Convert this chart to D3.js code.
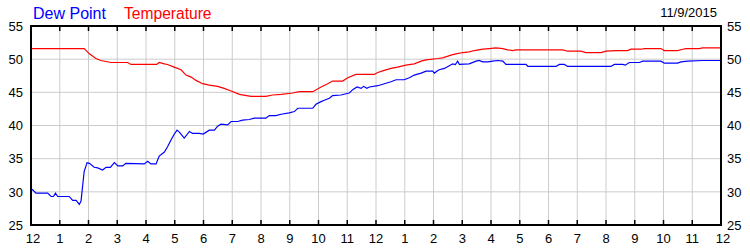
<!DOCTYPE html>
<html>
<head>
<meta charset="utf-8">
<script src="https://cdn.jsdelivr.net/npm/d3@7"></script>
<style>
  html, body { margin: 0; padding: 0; background: #ffffff; }
  svg { display: block; font-family: "Liberation Sans", Arial, sans-serif; }
</style>
</head>
<body>
<svg id="chart" width="750" height="250"></svg>
<script>
// ---- data (hours since midnight, °F) ----
const tempHours = [0,1.85,2.03,2.26,2.43,2.78,3.36,3.48,4.37,4.46,4.64,4.75,4.98,5.22,5.39,5.57,5.74,5.97,6.20,6.49,6.72,6.96,7.25,7.65,8.17,8.41,8.70,9.10,9.33,9.80,10.09,10.32,10.49,10.84,11.02,11.30,11.94,12.06,12.29,12.52,12.75,13.04,13.33,13.57,13.74,14.15,14.32,14.61,14.78,15.02,15.24,15.42,15.71,15.94,16.17,16.41,16.58,16.75,16.87,18.49,18.67,19.13,19.30,19.83,20.00,20.35,20.75,20.87,21.22,21.33,21.91,22.03,22.49,22.67,22.78,23.24,23.36,24];
const tempValues = [51.6,51.6,50.8,50.1,49.8,49.5,49.5,49.2,49.2,49.5,49.3,49.2,48.8,48.4,47.6,47.3,46.8,46.3,46.1,45.9,45.6,45.2,44.7,44.4,44.4,44.6,44.7,44.9,45.1,45.1,45.8,46.3,46.7,46.7,47.2,47.7,47.7,48.0,48.3,48.6,48.8,49.1,49.3,49.7,49.9,50.1,50.2,50.6,50.8,51.0,51.1,51.3,51.5,51.6,51.7,51.6,51.4,51.3,51.4,51.4,51.2,51.2,51.0,51.0,51.2,51.3,51.3,51.5,51.5,51.6,51.6,51.3,51.3,51.5,51.6,51.6,51.7,51.7];

const dewHours = [0,0.06,0.17,0.58,0.70,0.78,0.85,0.93,1.33,1.45,1.57,1.68,1.74,1.85,1.95,2.03,2.20,2.32,2.49,2.61,2.76,2.90,3.02,3.19,3.30,3.94,4.06,4.17,4.35,4.46,4.64,4.75,4.87,4.97,5.08,5.16,5.33,5.51,5.62,5.85,5.99,6.20,6.38,6.49,6.61,6.84,6.96,7.19,7.36,7.59,7.77,8.17,8.29,8.52,8.70,8.98,9.16,9.28,9.80,9.91,10.09,10.20,10.38,10.49,10.78,11.07,11.19,11.34,11.48,11.57,11.68,11.77,12.06,12.29,12.52,12.70,12.98,13.16,13.33,13.57,13.74,13.97,14.03,14.15,14.20,14.38,14.55,14.67,14.76,14.84,14.90,15.24,15.48,15.59,15.71,15.89,16.06,16.23,16.41,16.52,17.22,17.28,18.26,18.38,18.55,18.67,20.17,20.29,20.58,20.67,20.81,21.16,21.28,21.91,22.03,22.49,22.61,22.84,23.36,24];
const dewValues = [30.4,30.3,29.8,29.8,29.3,29.3,29.8,29.3,29.3,28.7,28.7,28.1,28.6,33.1,34.4,34.3,33.7,33.6,33.3,33.7,33.7,34.4,33.9,33.9,34.3,34.2,34.6,34.2,34.2,35.4,36.0,36.8,37.8,38.6,39.3,39.0,38.1,39.1,38.8,38.8,38.7,39.3,39.3,39.9,40.2,40.1,40.6,40.6,40.8,40.9,41.1,41.1,41.5,41.5,41.7,41.9,42.1,42.6,42.6,43.2,43.6,43.8,44.1,44.5,44.6,44.9,45.4,45.8,45.6,45.9,45.6,45.8,46.0,46.3,46.6,46.9,46.9,47.2,47.6,47.9,48.2,48.2,47.9,48.3,48.4,48.6,49.0,49.3,49.2,49.7,49.2,49.3,49.7,49.8,49.6,49.6,49.7,49.8,49.7,49.2,49.2,48.9,48.9,49.2,49.2,48.9,48.9,49.2,49.2,49.1,49.5,49.5,49.7,49.7,49.4,49.4,49.6,49.7,49.8,49.8];

const xTickHours = d3.range(0, 25, 1);
const xTickLabels = ["12","1","2","3","4","5","6","7","8","9","10","11","12","1","2","3","4","5","6","7","8","9","10","11","12"];
const yTicks = [25, 30, 35, 40, 45, 50, 55];
const seriesNames = ["Dew Point", "Temperature"];
const dateLabel = "11/9/2015";

// ---- layout ----
const svg = d3.select("#chart");
const plotLeft = 31, plotRight = 721, plotTop = 26, plotBottom = 225;

const x = d3.scaleLinear().domain([0, 24]).range([plotLeft, plotRight]);
const y = d3.scaleLinear().domain([25, 55]).range([plotBottom, plotTop]);

// gridlines
const grid = svg.append("g").attr("stroke", "#cccccc").attr("stroke-width", 1);
grid.selectAll("line.v").data(xTickHours.slice(1, -1)).enter().append("line")
  .attr("x1", d => x(d)).attr("x2", d => x(d)).attr("y1", plotTop).attr("y2", plotBottom);
grid.selectAll("line.h").data(yTicks.slice(1, -1)).enter().append("line")
  .attr("x1", plotLeft).attr("x2", plotRight).attr("y1", d => y(d)).attr("y2", d => y(d));

// lines
const lineGen = (hrs) => d3.line().x((d, i) => x(hrs[i])).y(d => y(d));
svg.append("path").datum(tempValues)
  .attr("fill", "none").attr("stroke", "#ff0000").attr("stroke-width", 1.2)
  .attr("d", lineGen(tempHours));
svg.append("path").datum(dewValues)
  .attr("fill", "none").attr("stroke", "#0000ff").attr("stroke-width", 1.2)
  .attr("d", lineGen(dewHours));

// frame
svg.append("rect").attr("x", plotLeft).attr("y", plotTop)
  .attr("width", plotRight - plotLeft).attr("height", plotBottom - plotTop)
  .attr("fill", "none").attr("stroke", "#000").attr("stroke-width", 2);

// inward tick marks on top and bottom
const tk = svg.append("g").attr("stroke", "#000").attr("stroke-width", 1.5);
tk.selectAll("line.t").data(xTickHours.slice(1, -1)).enter().append("line")
  .attr("x1", d => x(d)).attr("x2", d => x(d)).attr("y1", plotTop).attr("y2", plotTop + 5);
tk.selectAll("line.b").data(xTickHours.slice(1, -1)).enter().append("line")
  .attr("x1", d => x(d)).attr("x2", d => x(d)).attr("y1", plotBottom).attr("y2", plotBottom - 5);

// axis labels
const axisFont = 13;
const lab = svg.append("g").attr("font-size", axisFont).attr("fill", "#000");
lab.selectAll("text.yl").data(yTicks).enter().append("text")
  .attr("x", 23).attr("y", d => y(d)).attr("dy", "0.36em")
  .attr("text-anchor", "end").text(d => d);
lab.selectAll("text.yr").data(yTicks).enter().append("text")
  .attr("x", 727).attr("y", d => y(d)).attr("dy", "0.36em")
  .attr("text-anchor", "start").text(d => d);
lab.selectAll("text.xl").data(xTickHours).enter().append("text")
  .attr("x", (d, i) => x(d) + ((i === 0 || i === xTickHours.length - 1) ? 2 : 0))
  .attr("y", 243)
  .attr("text-anchor", "middle").text((d, i) => xTickLabels[i]);

// legend
svg.append("text").attr("x", 33).attr("y", 18.5).attr("font-size", 16)
  .attr("fill", "#0000ff").text(seriesNames[0]);
svg.append("text").attr("x", 124).attr("y", 18.5).attr("font-size", 15.6)
  .attr("fill", "#ff0000").text(seriesNames[1]);

// date
svg.append("text").attr("x", 717).attr("y", 16.5).attr("font-size", 13)
  .attr("text-anchor", "end").attr("fill", "#000").text(dateLabel);
</script>
</body>
</html>
